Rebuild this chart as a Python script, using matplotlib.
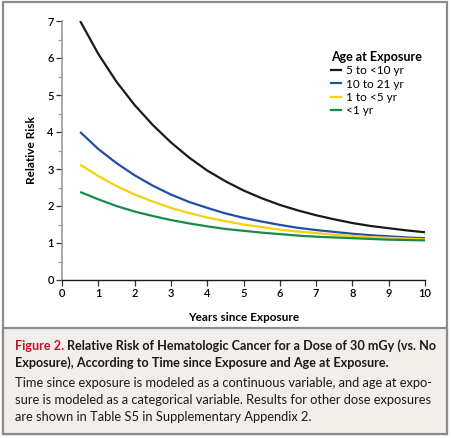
import matplotlib.pyplot as plt
from matplotlib.patches import Rectangle
from matplotlib.lines import Line2D
import matplotlib.ticker as mticker

# years since exposure (read at half-year steps)
years = [0.5, 1, 1.5, 2, 2.5, 3, 3.5, 4, 4.5, 5, 5.5, 6, 6.5, 7, 7.5, 8, 8.5, 9, 9.5, 10]

# relative risk by age at exposure
rr_5to10 = [7.00, 6.11, 5.36, 4.73, 4.19, 3.72, 3.31, 2.96, 2.67, 2.42,
            2.21, 2.03, 1.88, 1.75, 1.64, 1.54, 1.46, 1.40, 1.34, 1.29]
rr_10to21 = [4.00, 3.54, 3.16, 2.83, 2.55, 2.31, 2.11, 1.95, 1.80, 1.68,
             1.58, 1.49, 1.41, 1.35, 1.30, 1.25, 1.21, 1.18, 1.15, 1.13]
rr_1to5 = [3.12, 2.81, 2.54, 2.31, 2.12, 1.95, 1.81, 1.69, 1.59, 1.50,
           1.43, 1.36, 1.31, 1.27, 1.22, 1.19, 1.16, 1.14, 1.12, 1.10]
rr_lt1 = [2.38, 2.18, 2.00, 1.85, 1.73, 1.62, 1.53, 1.45, 1.38, 1.33,
          1.28, 1.24, 1.20, 1.17, 1.15, 1.13, 1.11, 1.09, 1.08, 1.07]

labels = ["5 to <10 yr", "10 to 21 yr", "1 to <5 yr", "<1 yr"]
colors = ["#1a1a1a", "#1f4fa8", "#f5d20a", "#1a8a4a"]
series = [rr_5to10, rr_10to21, rr_1to5, rr_lt1]

plt.rcParams['font.family'] = ['Lato', 'DejaVu Sans']

W, H = 451, 438
fig = plt.figure(figsize=(W / 100, H / 100), dpi=100)

# background frame + caption panel (figure pixel coords)
def px(x, y, w, h):
    return (x / W, 1 - (y + h) / H, w / W, h / H)

bx, by, bw, bh = px(3, 2, 444, 432)
fig.patches.append(Rectangle((bx, by), bw, bh, transform=fig.transFigure,
                             facecolor="white", edgecolor="#8c8c8c", lw=1.6, zorder=-2))
cx, cy, cw, ch = px(3, 328, 444, 106)
fig.patches.append(Rectangle((cx, cy), cw, ch, transform=fig.transFigure,
                             facecolor="#f2eee9", edgecolor="#8c8c8c", lw=1.6, zorder=-1))

ax = fig.add_axes([62 / W, 1 - 280 / H, (425 - 62) / W, (280 - 21) / H])
ax.patch.set_alpha(0)

for y, c, lab in zip(series, colors, labels):
    ax.plot(years, y, color=c, lw=1.6, label=lab, solid_capstyle="butt")

ax.set_xlim(0, 10)
ax.set_ylim(0, 7)
ax.set_xticks(range(0, 11))
ax.set_yticks(range(0, 8))
ax.yaxis.set_minor_locator(mticker.MultipleLocator(0.5))
for s in ["top", "right"]:
    ax.spines[s].set_visible(False)
ax.spines["left"].set_color("#9a9a9a")
ax.spines["left"].set_linewidth(1.2)
ax.spines["bottom"].set_color("#1a1a1a")
ax.spines["bottom"].set_linewidth(1.0)
ax.tick_params(axis="both", which="major", length=4, width=0.9, color="#333333",
               labelsize=8, pad=2)
ax.tick_params(axis="y", which="minor", length=3, width=0.9, color="#9a9a9a")
for t in ax.get_xticklabels() + ax.get_yticklabels():
    t.set_fontweight("semibold")

ax.set_xlabel("Years since Exposure", fontsize=8.5, fontweight="bold", labelpad=9)
ax.set_ylabel("Relative Risk", fontsize=8.5, fontweight="bold", labelpad=7)

handles = [Line2D([0], [0], color=c, lw=1.6) for c in colors]
leg = ax.legend(handles, labels, title="Age at Exposure", loc="upper left",
                bbox_to_anchor=(0.74, 0.885), frameon=False, fontsize=8.5,
                handlelength=0.9, handletextpad=0.4, labelspacing=0.2,
                borderaxespad=0, borderpad=0)
leg.get_title().set_fontweight("bold")
leg.get_title().set_fontsize(9)
leg._legend_box.align = "left"

# caption
fig.canvas.draw()
renderer = fig.canvas.get_renderer()
fig_lab = fig.text(15 / W, 1 - 346 / H, "Figure 2. ", color="#c8102e", fontsize=9.1,
                   fontweight="bold", va="center")
bb = fig_lab.get_window_extent(renderer)
fig.text(bb.x1 / W, 1 - 346 / H,
         "Relative Risk of Hematologic Cancer for a Dose of 30 mGy (vs. No",
         color="#1a1a1a", fontsize=9.1, fontweight="bold", va="center")
fig.text(15 / W, 1 - 363 / H,
         "Exposure), According to Time since Exposure and Age at Exposure.",
         color="#1a1a1a", fontsize=9.1, fontweight="bold", va="center")
body = ["Time since exposure is modeled as a continuous variable, and age at expo-",
        "sure is modeled as a categorical variable. Results for other dose exposures",
        "are shown in Table S5 in Supplementary Appendix 2."]
for i, line in enumerate(body):
    fig.text(15 / W, 1 - (383 + 17 * i) / H, line, color="#1a1a1a",
             fontsize=9.3, va="center")

fig.savefig("out.png", dpi=100)
